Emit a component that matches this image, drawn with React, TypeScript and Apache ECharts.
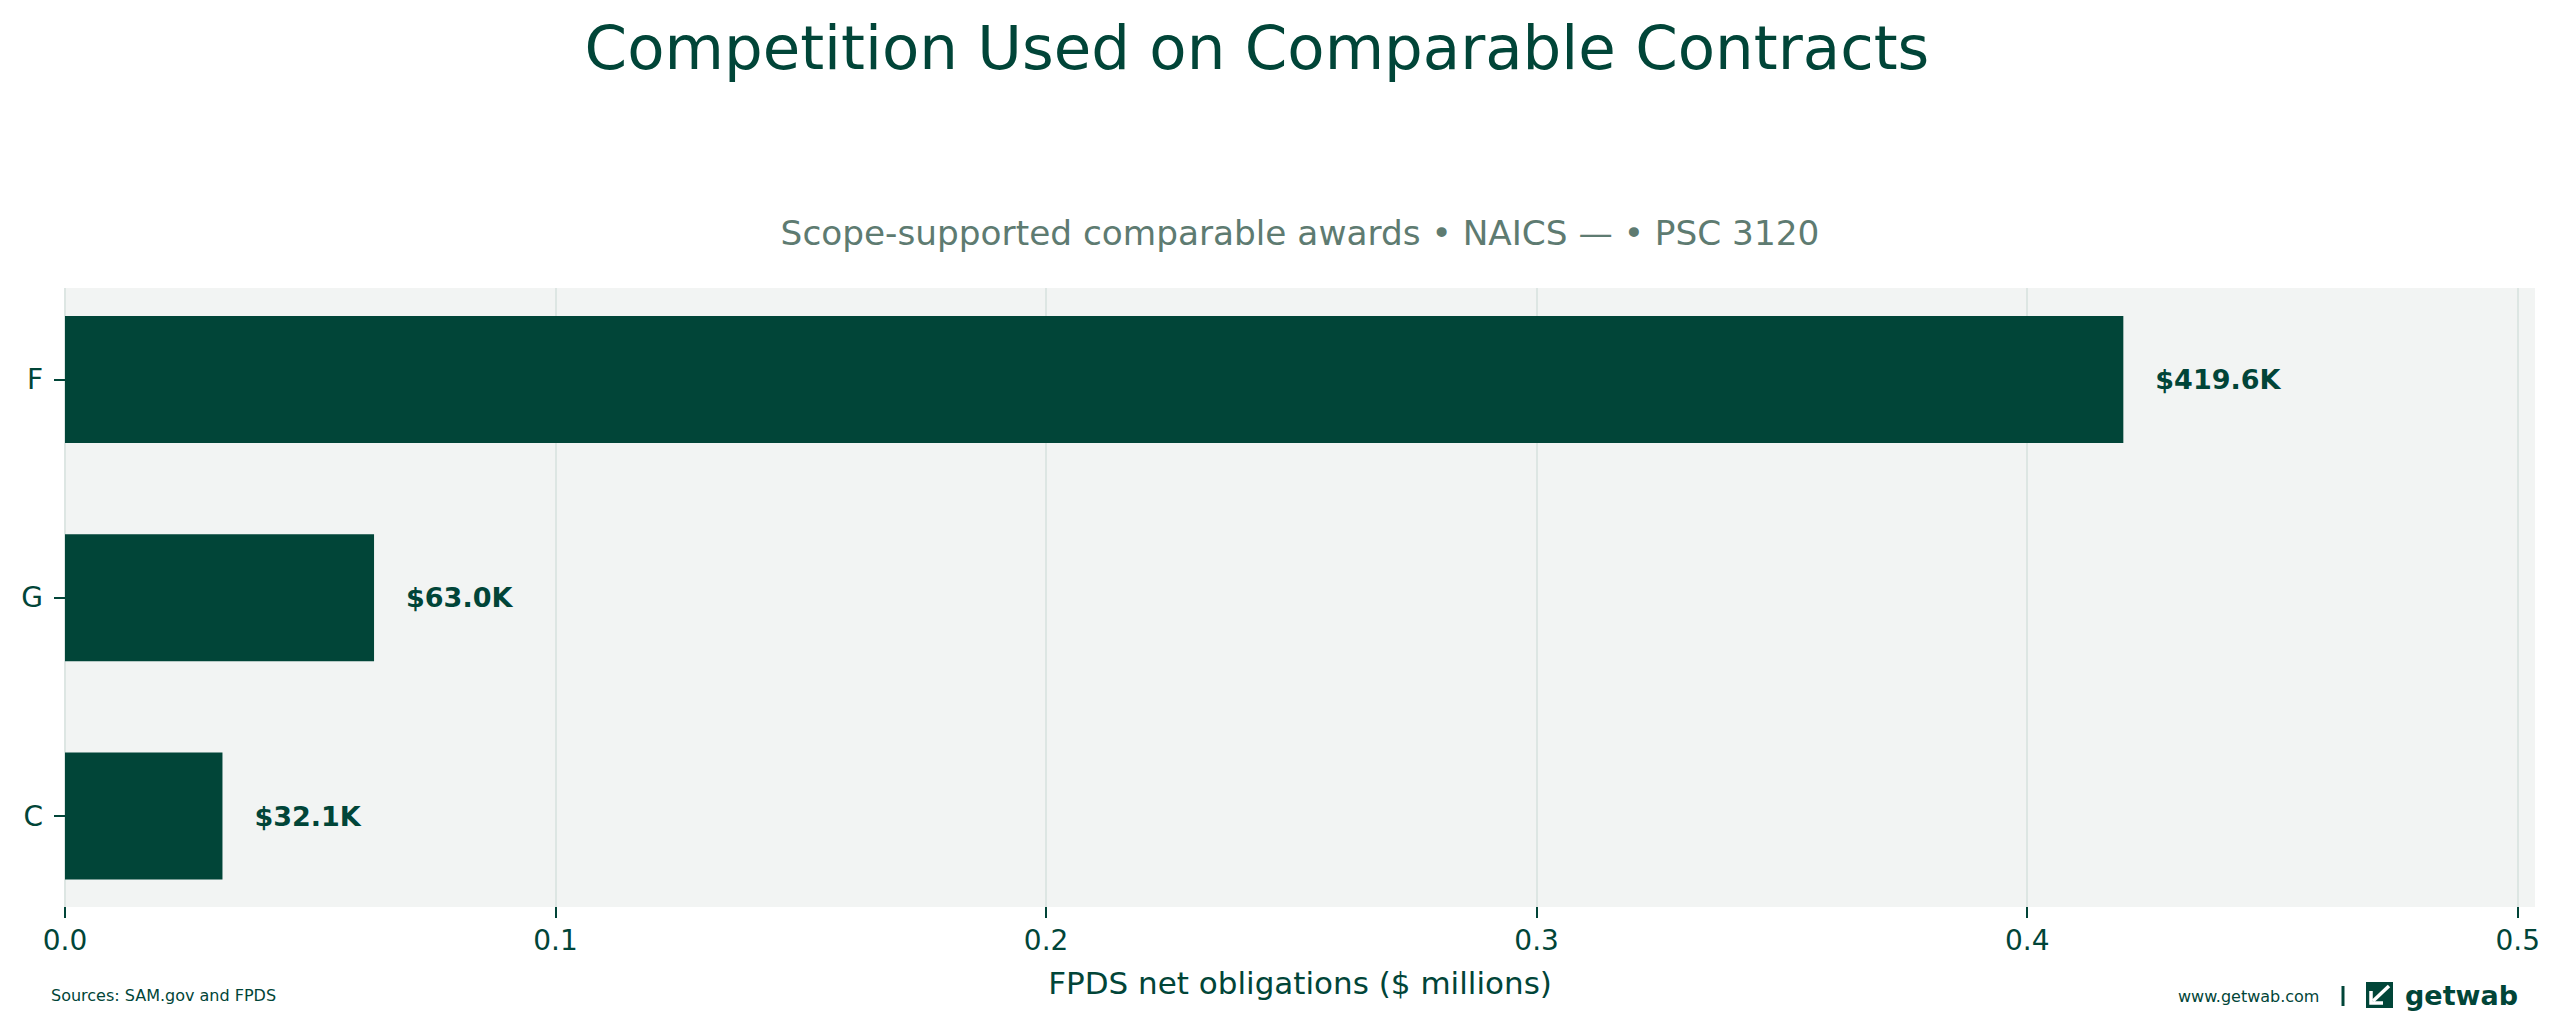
import { useEffect, useRef } from "react";
import * as echarts from "echarts";

const categories = ["F", "G", "C"];
const obligations = [0.4196, 0.063, 0.0321]; // $ millions
const xTicks = [0, 0.1, 0.2, 0.3, 0.4, 0.5];
const xMax = 0.4196 * 1.2;

const DARK = "#014538";
const FONT = "DejaVu Sans";

export default function App() {
  const ref = useRef<HTMLDivElement>(null);

  useEffect(() => {
    document.body.style.margin = "0";
    if (!ref.current) return;
    const chart = echarts.init(ref.current, undefined, { renderer: "svg" });
    chart.setOption({
      animation: false,
      backgroundColor: "#ffffff",
      textStyle: { fontFamily: FONT },
      grid: [
        // plot frame with background, owns the x axis
        {
          left: 65,
          top: 288,
          width: 2470,
          height: 619,
          show: true,
          backgroundColor: "#F2F4F3",
          borderWidth: 0,
        },
        // bars, spaced like the reference's y range
        { left: 65, top: 270.4, width: 2470, height: 654.75 },
      ],
      xAxis: [
        {
          type: "value",
          gridIndex: 0,
          min: 0,
          max: xMax,
          axisLine: { show: false },
          axisTick: {
            show: true,
            length: 11,
            customValues: xTicks,
            lineStyle: { color: DARK, width: 2 },
          },
          axisLabel: {
            customValues: xTicks,
            formatter: (v: number) => v.toFixed(1),
            fontSize: 28,
            color: DARK,
            margin: 19,
            fontFamily: FONT,
          },
          splitLine: { show: true, lineStyle: { color: "#DDE6E3", width: 2 } },
          name: "FPDS net obligations ($ millions)",
          nameLocation: "middle",
          nameGap: 60,
          nameTextStyle: { fontSize: 31, color: DARK, fontFamily: FONT },
        },
        { type: "value", gridIndex: 1, min: 0, max: xMax, show: false },
      ],
      yAxis: [
        { type: "value", gridIndex: 0, show: false },
        {
          type: "category",
          gridIndex: 1,
          data: categories,
          inverse: true,
          axisLine: { show: false },
          axisTick: {
            show: true,
            alignWithLabel: true,
            length: 11,
            lineStyle: { color: DARK, width: 2 },
          },
          axisLabel: { fontSize: 28, color: DARK, margin: 22, fontFamily: FONT },
          splitLine: { show: false },
        },
      ],
      series: [
        {
          type: "bar",
          xAxisIndex: 1,
          yAxisIndex: 1,
          data: obligations,
          barWidth: 127,
          itemStyle: { color: DARK },
          label: {
            show: true,
            position: "right",
            distance: 32,
            formatter: (p: any) => `$${(p.value * 1000).toFixed(1)}K`,
            fontSize: 27,
            fontWeight: "bold",
            color: DARK,
            fontFamily: FONT,
          },
        },
      ],
      graphic: [
        {
          type: "text",
          x: 1257,
          y: 47,
          style: {
            text: "Competition Used on Comparable Contracts",
            fontSize: 61,
            fill: DARK,
            fontFamily: FONT,
            align: "center",
            verticalAlign: "middle",
          },
        },
        {
          type: "text",
          x: 1300,
          y: 233,
          style: {
            text: "Scope-supported comparable awards • NAICS — • PSC 3120",
            fontSize: 34.3,
            fill: "#5E7B71",
            fontFamily: FONT,
            align: "center",
            verticalAlign: "middle",
          },
        },
        {
          type: "text",
          x: 51,
          y: 995,
          style: {
            text: "Sources: SAM.gov and FPDS",
            fontSize: 16,
            fill: DARK,
            fontFamily: FONT,
            verticalAlign: "middle",
          },
        },
        {
          type: "text",
          x: 2178,
          y: 996,
          style: {
            text: "www.getwab.com",
            fontSize: 16,
            fill: DARK,
            fontFamily: FONT,
            verticalAlign: "middle",
          },
        },
        {
          type: "line",
          shape: { x1: 2343, y1: 986, x2: 2343, y2: 1006 },
          style: { stroke: DARK, lineWidth: 3 },
        },
        // logo mark
        {
          type: "group",
          x: 2366,
          y: 982,
          children: [
            { type: "rect", shape: { x: 0, y: 0, width: 27, height: 26 }, style: { fill: DARK } },
            {
              type: "line",
              shape: { x1: 23, y1: 4, x2: 7, y2: 19 },
              style: { stroke: "#ffffff", lineWidth: 3.5 },
            },
            {
              type: "polyline",
              shape: { points: [[5, 9], [5, 21], [17, 21]] },
              style: { stroke: "#ffffff", lineWidth: 3.5, fill: "none" },
            },
          ],
        },
        {
          type: "text",
          x: 2405,
          y: 995,
          style: {
            text: "getwab",
            fontSize: 27,
            fontWeight: "bold",
            fill: DARK,
            fontFamily: FONT,
            verticalAlign: "middle",
          },
        },
      ],
    });
    return () => chart.dispose();
  }, []);

  return <div ref={ref} style={{ width: 2562, height: 1022 }} />;
}
